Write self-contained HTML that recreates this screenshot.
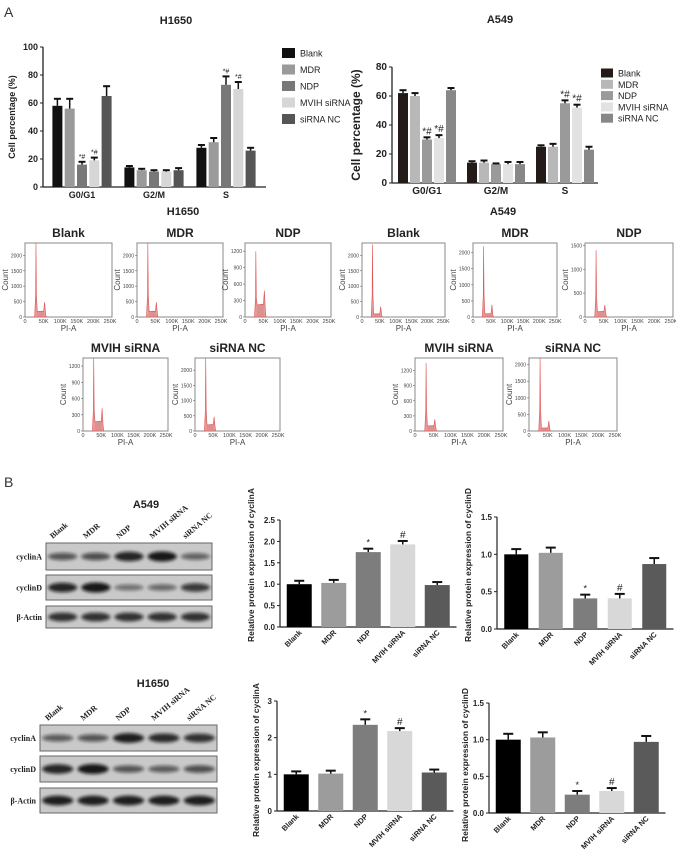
<!DOCTYPE html>
<html><head><meta charset="utf-8">
<style>
html,body{margin:0;padding:0;background:#fff;}
svg{display:block;font-family:"Liberation Sans",sans-serif;}
.serif{font-family:"Liberation Serif",serif;font-weight:bold;}
</style></head>
<body>
<svg id="fig" width="676" height="859" viewBox="0 0 676 859" xmlns="http://www.w3.org/2000/svg">
<defs><filter id="blur" x="-30%" y="-80%" width="160%" height="260%"><feGaussianBlur stdDeviation="1.6"/></filter></defs>
<text x="4" y="17" font-size="14" fill="#333">A</text>
<text x="4" y="487" font-size="14" fill="#333">B</text>
</svg>
<script>
// ===== Panel A cell cycle data =====
const ccCategories = ["G0/G1","G2/M","S"];
const ccSeries = ["Blank","MDR","NDP","MVIH siRNA","siRNA NC"];
const h1650Values = [[58,56,16,19,65],[14,12,11,11,12],[28,32,73,70,26]];
const h1650Errors = [[5,7,2,2,7],[1,1,1,1,1.5],[2,3,6,5,2]];
const a549Values = [[62,60,30,31,64],[14,14,13,13,13],[25,25,55,52,23]];
const a549Errors = [[2,2,1.5,2,1.5],[1,1.5,0.5,1.5,1.5],[1,2,2,2,2]];
const h1650Ticks = [0,20,40,60,80,100];
const a549Ticks = [0,20,40,60,80];
const ccSig = [["","","*#","*#",""],["","","","",""],["","","*#","*#",""]];
// ===== Flow histogram data (G1 peak, G2 peak, S level in counts) =====
const flowNames = ["Blank","MDR","NDP","MVIH siRNA","siRNA NC"];
const flowH1650G1 = [2400,2400,1200,1350,2400];
const flowH1650G2 = [480,480,480,420,470];
const flowH1650S = [180,180,220,170,200];
const flowA549G1 = [2350,2200,1400,1350,2200];
const flowA549G2 = [340,380,250,230,300];
const flowA549S = [100,100,110,100,90];
const flowTicksBig = [0,500,1000,1500,2000];
const flowTicksSmall = [0,300,600,900,1200];
const flowTicksMid = [0,500,1000,1500];
const flowXTicks = ["0","50K","100K","150K","200K","250K"];
const flowXValues = [0,50,100,150,200,250];
// ===== Panel B protein data =====
const proteinCats = ["Blank","MDR","NDP","MVIH siRNA","siRNA NC"];
const a549CyclinA = [1.0,1.03,1.75,1.93,0.98];
const a549CyclinAErr = [0.08,0.07,0.08,0.08,0.07];
const a549CyclinD = [1.0,1.02,0.41,0.41,0.87];
const a549CyclinDErr = [0.07,0.07,0.05,0.06,0.08];
const h1650CyclinA = [1.0,1.02,2.35,2.18,1.05];
const h1650CyclinAErr = [0.08,0.08,0.15,0.08,0.08];
const h1650CyclinD = [1.0,1.03,0.25,0.30,0.97];
const h1650CyclinDErr = [0.08,0.07,0.05,0.04,0.08];
const protSig = ["","","*","#",""];
const ticksA549A = [0,0.5,1.0,1.5,2.0,2.5];
const ticksD = [0,0.5,1.0,1.5];
const ticksH1650A = [0,1,2,3];
// Blot band intensities
const a549BandA = [0.55,0.6,0.9,1.0,0.45];
const a549BandD = [0.9,1.0,0.35,0.4,0.75];
const a549BandActin = [0.8,0.8,0.8,0.8,0.8];
const h1650BandA = [0.5,0.55,0.95,0.85,0.8];
const h1650BandD = [0.9,1.0,0.55,0.5,0.6];
const h1650BandActin = [0.95,0.95,0.95,0.95,0.95];

const NS="http://www.w3.org/2000/svg";
const svg=document.getElementById('fig');
function el(tag,attrs,parent,text){const e=document.createElementNS(NS,tag);for(const k in attrs)e.setAttribute(k,attrs[k]);if(text!==undefined)e.textContent=text;(parent||svg).appendChild(e);return e;}
function txt(x,y,s,size,opts,parent){const o=Object.assign({x:x,y:y,'font-size':size,fill:'#222'},opts||{});return el('text',o,parent,s);}

// ---- grouped cell cycle chart ----
function ccChart(c){
  const g=el('g',{});
  
  
  const ys=v=>c.y0-(v/c.max)*(c.y0-c.yTop);
  el('line',{x1:c.ax,y1:c.y0,x2:c.ax,y2:c.yTop,stroke:'#222','stroke-width':1.3},g);
  el('line',{x1:c.ax,y1:c.y0,x2:c.axEnd,y2:c.y0,stroke:'#222','stroke-width':1.3},g);
  c.ticks.forEach(t=>{
    el('line',{x1:c.ax-3,y1:ys(t),x2:c.ax,y2:ys(t),stroke:'#222','stroke-width':1},g);
    const tl=txt(c.ax-5,ys(t)+3,String(t),c.tickSize,{'text-anchor':'end','font-weight':c.bold?'bold':'normal'},g);
    
    
  });
  c.cats.forEach((cat,i)=>{
    const gc=c.gx0+i*c.gstep;
    const cl=txt(gc,c.y0+11,cat,c.catSize,{'text-anchor':'middle','font-weight':'bold'},g);
    
    
    c.values[i].forEach((v,j)=>{
      const bx=gc+(j-2)*c.bstep-c.bw/2;
      const r=el('rect',{x:bx,y:ys(v),width:c.bw,height:c.y0-ys(v),fill:c.colors[j]},g);
      
      
      const ey=ys(v+c.errors[i][j]);
      el('line',{x1:bx+c.bw/2,y1:ys(v),x2:bx+c.bw/2,y2:ey,stroke:'#111','stroke-width':1.5},g);
      el('line',{x1:bx+1.5,y1:ey,x2:bx+c.bw-1.5,y2:ey,stroke:'#111','stroke-width':2},g);
      if(c.sig[i][j]){txt(bx+c.bw/2,ey-3,c.sig[i][j],c.sigSize,{'text-anchor':'middle'},g);}
    });
  });
  const yl=txt(0,0,'Cell percentage (%)',c.ylabSize,{'text-anchor':'middle','font-weight':'bold',transform:`translate(${c.ylabX},${(c.y0+c.yTop)/2}) rotate(-90)`},g);
  
  
  const tt=txt(c.titleX,c.titleY,c.title,11,{'text-anchor':'middle','font-weight':'bold'},g);
  
  
  ccSeries.forEach((s,j)=>{
    const ly=c.legY+j*c.legStep;
    const lr=el('rect',{x:c.legX,y:ly-c.legSq/2,width:c.legSq+3,height:c.legSq,fill:c.colors[j]},g);
    
    
    const lt=txt(c.legX+c.legSq+8,ly+3.5,s,c.legSize,{},g);
    
    
  });
}
ccChart({name:'h1650-cell-cycle-chart',title:'H1650',titleX:176,titleY:24,ax:43,axEnd:266,y0:187,yTop:47,max:100,ticks:h1650Ticks,tickSize:9,bold:true,
  cats:ccCategories,gx0:82,gstep:72,bstep:12.3,bw:10,values:h1650Values,errors:h1650Errors,sig:ccSig,sigSize:7,catSize:9,
  colors:['#111','#9a9a9a','#787878','#d6d6d6','#555'],ylabX:15,ylabSize:9,legX:282,legY:53,legStep:16.5,legSq:10,legSize:9});
ccChart({name:'a549-cell-cycle-chart',title:'A549',titleX:500,titleY:23,ax:392,axEnd:598,y0:183,yTop:67,max:80,ticks:a549Ticks,tickSize:10,bold:true,
  cats:ccCategories,gx0:427,gstep:69,bstep:12,bw:10,values:a549Values,errors:a549Errors,sig:ccSig,sigSize:10,catSize:10,
  colors:['#241a18','#b8b8b8','#9a9a9a','#e2e2e2','#888'],ylabX:360,ylabSize:12,legX:601,legY:73,legStep:11.3,legSq:9,legSize:9});

// ---- flow histograms ----
function flow(c){
  const g=el('g',{});
  
  
  const {x,y,w,h}=c;
  const xs=k=>x+(k/262)*w;
  const ys=v=>y+h-(v/c.max)*h;
  const t=txt(x+w/2,y-6,c.title,12,{'text-anchor':'middle','font-weight':'bold'},g);
  
  
  el('rect',{x:x,y:y,width:w,height:h,fill:'#fff',stroke:'#888','stroke-width':1},g);
  const b=y+h;
  const p=`M${xs(29)},${b} L${xs(32)},${ys(c.g1*0.3)} L${xs(33)},${ys(c.g1)} L${xs(34.5)},${ys(c.g1*0.3)} L${xs(37)},${ys(c.s)} L${xs(52)},${ys(c.s*1.05)} L${xs(56)},${ys(c.s)} L${xs(59)},${ys(c.g2)} L${xs(62)},${ys(c.s*0.6)} L${xs(64)},${b} Z`;
  el('path',{d:`M${xs(36)},${b} L${xs(37)},${ys(c.s)} L${xs(52)},${ys(c.s*1.1)} L${xs(57)},${ys(c.s)} L${xs(58)},${b} Z`,fill:'#bbb'},g);
  const pk=el('path',{d:p,fill:'#e28a8a','fill-opacity':0.85,stroke:'#d55','stroke-width':0.6},g);
  
  
  c.ticks.forEach(tv=>{
    el('line',{x1:x-2,y1:ys(tv),x2:x,y2:ys(tv),stroke:'#666','stroke-width':0.6},g);
    txt(x-3,ys(tv)+2,String(tv),5,{'text-anchor':'end',fill:'#444'},g);
  });
  flowXValues.forEach((xv,i)=>{
    txt(xs(xv)+(i==0?0:2),b+6,flowXTicks[i],5.5,{'text-anchor':'middle',fill:'#444'},g);
  });
  txt(x+w/2,b+14,'PI-A',8,{'text-anchor':'middle',fill:'#444'},g);
  txt(0,0,'Count',8,{'text-anchor':'middle',fill:'#444',transform:`translate(${x-17},${y+h/2}) rotate(-90)`},g);
}
const h1650Pos=[[25,243,87,74],[137,243,86,74],[245,243,86,74],[83,358,85,73],[195,358,85,73]];
const a549Pos=[[362,243,83,74],[473,243,84,74],[585,243,88,74],[415,358,88,73],[529,358,88,73]];
const h1650TickSets=[flowTicksBig,flowTicksBig,flowTicksSmall,flowTicksSmall,flowTicksBig];
const h1650Max=[2400,2400,1350,1350,2400];
const a549TickSets=[flowTicksBig,flowTicksBig,flowTicksMid,flowTicksSmall,flowTicksBig];
const a549Max=[2400,2300,1550,1450,2200];
flowNames.forEach((n,i)=>{
  const p=h1650Pos[i];
  flow({name:'h1650-histogram-'+i,title:n,x:p[0],y:p[1],w:p[2],h:p[3],g1:flowH1650G1[i],g2:flowH1650G2[i],s:flowH1650S[i],ticks:h1650TickSets[i],max:h1650Max[i]});
  const q=a549Pos[i];
  flow({name:'a549-histogram-'+i,title:n,x:q[0],y:q[1],w:q[2],h:q[3],g1:flowA549G1[i],g2:flowA549G2[i],s:flowA549S[i],ticks:a549TickSets[i],max:a549Max[i]});
});
const s1=txt(183,215,'H1650',11,{'text-anchor':'middle','font-weight':'bold'});


const s2=txt(503,215,'A549',11,{'text-anchor':'middle','font-weight':'bold'});



// ---- western blots ----
function blot(c){
  const g=el('g',{});
  
  
  txt(c.titleX,c.titleY,c.title,11,{'text-anchor':'middle','font-weight':'bold'},g);
  const lw=(c.x1-c.x0)/5;
  proteinCats.forEach((n,i)=>{
    const cx=c.x0+lw*(i+0.5);
    const l=txt(0,0,n,8,{class:'serif',transform:`translate(${cx-10},${c.rows[0][0]-4}) rotate(-40)`},g);
    
    
  });
  const labels=['cyclinA','cyclinD','\u03b2-Actin'];
  c.rows.forEach((r,k)=>{
    el('rect',{x:c.x0,y:r[0],width:c.x1-c.x0,height:r[1]-r[0],fill:'#c9c9c9',stroke:'#666','stroke-width':1},g);
    const rl=txt(c.x0-4,(r[0]+r[1])/2+3,labels[k],8,{class:'serif','text-anchor':'end'},g);
    
    
    c.bands[k].forEach((v,i)=>{
      const cx=c.x0+lw*(i+0.5);
      const b=el('ellipse',{cx:cx,cy:(r[0]+r[1])/2,rx:lw*0.44,ry:2+3*v,fill:'#111','fill-opacity':0.25+0.7*v,filter:'url(#blur)'},g);
      
      
    });
  });
}
blot({name:'a549-western-blot',title:'A549',titleX:146,titleY:508,x0:46,x1:212,rows:[[543,570],[575,600],[606,628]],bands:[a549BandA,a549BandD,a549BandActin]});
blot({name:'h1650-western-blot',title:'H1650',titleX:153,titleY:687,x0:40,x1:217,rows:[[725,751],[756,782],[788,813]],bands:[h1650BandA,h1650BandD,h1650BandActin]});

// ---- protein bar charts ----
function protChart(c){
  const g=el('g',{});
  
  
  const max=c.ticks[c.ticks.length-1];
  const ys=v=>c.y0-(v/max)*(c.y0-c.yTop);
  const colors=['#000','#9c9c9c','#7d7d7d','#d8d8d8','#5a5a5a'];
  el('line',{x1:c.ax,y1:c.y0,x2:c.ax,y2:c.yTop,stroke:'#222','stroke-width':1.2},g);
  el('line',{x1:c.ax,y1:c.y0,x2:c.ax+5*c.step+4,y2:c.y0,stroke:'#222','stroke-width':1.2},g);
  c.ticks.forEach(t=>{
    el('line',{x1:c.ax-3,y1:ys(t),x2:c.ax,y2:ys(t),stroke:'#222'},g);
    txt(c.ax-5,ys(t)+3,c.fmt(t),8,{'text-anchor':'end','font-weight':'bold'},g);
  });
  proteinCats.forEach((n,i)=>{
    const cx=c.ax+c.step*(i+0.5)+2;
    const v=c.values[i];
    const r=el('rect',{x:cx-c.bw/2,y:ys(v),width:c.bw,height:c.y0-ys(v),fill:colors[i]},g);
    
    
    const ey=ys(v+c.errors[i]);
    el('line',{x1:cx,y1:ys(v),x2:cx,y2:ey,stroke:'#111','stroke-width':1.5},g);
    el('line',{x1:cx-5,y1:ey,x2:cx+5,y2:ey,stroke:'#111','stroke-width':2},g);
    if(protSig[i])txt(cx,ey-3,protSig[i],protSig[i]=='*'?9:10,{'text-anchor':'middle'},g);
    const xl=txt(0,0,n,7.5,{'text-anchor':'end','font-weight':'bold',transform:`translate(${cx+3},${c.y0+6}) rotate(-45)`},g);
    
    
  });
  const yl=txt(0,0,'Relative protein expression of '+c.protein,8.5,{'text-anchor':'middle','font-weight':'bold',transform:`translate(${c.ylabX},${c.ylabY}) rotate(-90)`},g);
  
  
}
const f1=t=>t.toFixed(1), f0=t=>String(t);
protChart({name:'a549-cyclina-chart',protein:'cyclinA',ax:280,y0:627,yTop:520,step:34.5,bw:25,values:a549CyclinA,errors:a549CyclinAErr,ticks:ticksA549A,fmt:f1,ylabX:254,ylabY:565});
protChart({name:'a549-cyclind-chart',protein:'cyclinD',ax:497,y0:629,yTop:517,step:34.5,bw:24,values:a549CyclinD,errors:a549CyclinDErr,ticks:ticksD,fmt:f1,ylabX:471,ylabY:565});
protChart({name:'h1650-cyclina-chart',protein:'cyclinA',ax:277,y0:811,yTop:701,step:34.5,bw:25,values:h1650CyclinA,errors:h1650CyclinAErr,ticks:ticksH1650A,fmt:f0,ylabX:259,ylabY:760});
protChart({name:'h1650-cyclind-chart',protein:'cyclinD',ax:489,y0:813,yTop:703,step:34.5,bw:25,values:h1650CyclinD,errors:h1650CyclinDErr,ticks:ticksD,fmt:f1,ylabX:468,ylabY:765});
</script>
</body></html>
